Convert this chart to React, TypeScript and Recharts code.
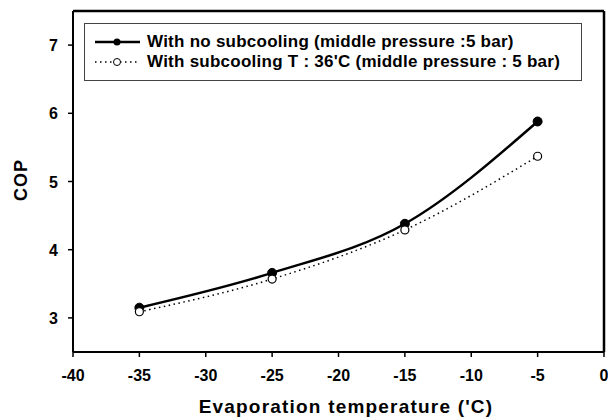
import { Line, LineChart, ReferenceLine, XAxis, YAxis } from "recharts";

const temps = [-35, -25, -15, -5];
const copNoSub = [3.15, 3.66, 4.38, 5.88];
const copSub = [3.09, 3.57, 4.29, 5.37];
const xTicks = [-40, -35, -30, -25, -20, -15, -10, -5, 0];
const yTicks = [3, 4, 5, 6, 7];
const xDomain = [-40, 0];
const yDomain = [2.5, 7.5];
const seriesNames = [
  "With no subcooling (middle pressure :5 bar)",
  "With subcooling T : 36'C (middle pressure : 5 bar)"
];

const data = temps.map((t, i) => ({ t, a: copNoSub[i], b: copSub[i] }));

const FONT = "'Liberation Sans', Arial, sans-serif";

function LegendBox(): JSX.Element {
  const row = { display: "flex", alignItems: "center", height: 20 } as const;
  return (
    <div
      style={{
        position: "absolute",
        left: 84,
        top: 23,
        width: 498,
        height: 58,
        border: "1px solid #444",
        background: "#fff",
        boxSizing: "border-box",
        fontFamily: FONT,
        fontWeight: "bold",
        fontSize: 17,
        letterSpacing: 0.25,
        color: "#000",
        paddingTop: 8
      }}
    >
      <div style={row}>
        <svg width={52} height={12} style={{ marginLeft: 10 }}>
          <line x1={0} y1={6} x2={45} y2={6} stroke="#000" strokeWidth={2.5} />
          <circle cx={22} cy={6} r={3.5} fill="#000" />
        </svg>
        <span>{seriesNames[0]}</span>
      </div>
      <div style={row}>
        <svg width={52} height={12} style={{ marginLeft: 10 }}>
          <line x1={0} y1={6} x2={45} y2={6} stroke="#000" strokeWidth={1.5} strokeDasharray="1.5 3.5" />
          <circle cx={22} cy={6} r={3.5} fill="#fff" stroke="#000" strokeWidth={1} />
        </svg>
        <span>{seriesNames[1]}</span>
      </div>
    </div>
  );
}

function XTick(props: any): JSX.Element {
  const { x, y, payload } = props;
  return (
    <text x={x} y={y + 18} textAnchor="middle" fontFamily={FONT} fontWeight="bold" fontSize={16} fill="#000">
      {String(payload.value)}
    </text>
  );
}

function YTick(props: any): JSX.Element {
  const { x, y, payload } = props;
  return (
    <text x={x} y={y + 6} textAnchor="end" fontFamily={FONT} fontWeight="bold" fontSize={16} fill="#000">
      {String(payload.value)}
    </text>
  );
}

export default function App(): JSX.Element {
  return (
    <div style={{ position: "fixed", left: 0, top: 0, width: 608, height: 418, background: "#fff" }}>
      <LineChart width={608} height={418} data={data} margin={{ top: 11, right: 4, bottom: 0, left: 0 }}>
        <XAxis
          dataKey="t"
          type="number"
          domain={xDomain}
          ticks={xTicks}
          interval={0}
          height={66}
          axisLine={{ stroke: "#000", strokeWidth: 2 }}
          tickLine={{ stroke: "#000", strokeWidth: 1.5 }}
          tickSize={5}
          tickMargin={6}
          tick={<XTick />}
          label={{
            content: () => (
              <text
                x={346}
                y={413}
                textAnchor="middle"
                fontFamily={FONT}
                fontWeight="bold"
                fontSize={19}
                letterSpacing={1.2}
                fill="#000"
              >
                Evaporation temperature ('C)
              </text>
            )
          }}
        />
        <YAxis
          type="number"
          domain={yDomain}
          ticks={yTicks}
          interval={0}
          width={73}
          axisLine={{ stroke: "#000", strokeWidth: 2 }}
          tickLine={{ stroke: "#000", strokeWidth: 1.5 }}
          tickSize={5}
          tickMargin={10}
          tick={<YTick />}
          label={{
            content: () => (
              <text
                x={27}
                y={180}
                textAnchor="middle"
                transform="rotate(-90 27 180)"
                fontFamily={FONT}
                fontWeight="bold"
                fontSize={18}
                letterSpacing={1}
                fill="#000"
              >
                COP
              </text>
            )
          }}
        />
        <ReferenceLine
          segment={[
            { x: xDomain[0], y: yDomain[1] },
            { x: xDomain[1], y: yDomain[1] }
          ]}
          stroke="#000"
          strokeWidth={2.5}
          ifOverflow="visible"
        />
        <ReferenceLine x={xDomain[1]} stroke="#000" strokeWidth={2.5} ifOverflow="visible" />
        <Line
          dataKey="a"
          name={seriesNames[0]}
          type="monotone"
          stroke="#000"
          strokeWidth={2.5}
          dot={{ r: 4.5, fill: "#000", stroke: "#000", strokeWidth: 1 }}
          isAnimationActive={false}
        />
        <Line
          dataKey="b"
          name={seriesNames[1]}
          type="monotone"
          stroke="#000"
          strokeWidth={1.5}
          strokeDasharray="1.5 3.5"
          dot={{ r: 4, fill: "#fff", stroke: "#000", strokeWidth: 1.2, strokeDasharray: "" }}
          isAnimationActive={false}
        />
      </LineChart>
      <LegendBox />
    </div>
  );
}
